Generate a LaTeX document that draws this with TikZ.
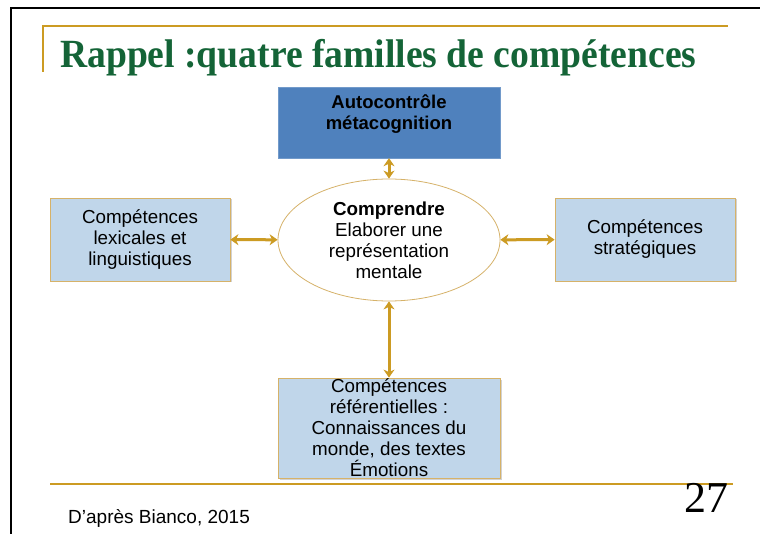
\documentclass[tikz,border=0pt]{standalone}
\usepackage{fontspec}
\setmainfont{Liberation Sans}
\newfontfamily\titlefont[FakeStretch=0.94]{Liberation Serif}
\newfontfamily\numfont{Liberation Serif}
\usetikzlibrary{arrows.meta,shapes.geometric,shadows}

\definecolor{titlegreen}{RGB}{20,100,55}
\definecolor{goldline}{RGB}{204,155,35}
\definecolor{boxblue}{RGB}{192,214,234}
\definecolor{darkblue}{RGB}{79,129,189}
\definecolor{boxrim}{RGB}{214,178,105}

\begin{document}
\begin{tikzpicture}[x=1pt,y=-1pt,>={Stealth[length=8pt,width=11pt,inset=2.5pt]},
    lightbox/.style={draw=boxrim,line width=0.8pt,fill=boxblue,align=center,
        font=\fontsize{18.8}{21}\selectfont,inner sep=0pt,
        drop shadow={opacity=0.35,shadow xshift=1.5pt,shadow yshift=-1.5pt}},
    conn/.style={<->,draw=goldline,fill=goldline,line width=3pt}]
    \useasboundingbox (0,0) rectangle (760,534);
    \fill [white] (0,0) rectangle (760,534);

    % cadre de la diapositive
    \draw [line width=1.6pt] (11,534) -- (11,8) -- (760,8);
    \draw [goldline,line width=1.5pt] (43,72) -- (43,26) -- (728,26);
    \node (titre) [anchor=base west,inner sep=0pt,text=titlegreen,
        font=\titlefont\bfseries\fontsize{40}{44}\selectfont] at (60,68)
        {Rappel :quatre familles de compétences};

    % les quatre familles
    \node (autocontrole) [draw=darkblue!80!white,fill=darkblue,align=center,
        minimum width=222pt,minimum height=71pt,inner sep=0pt,
        font=\bfseries\fontsize{18.5}{21}\selectfont] at (389,122.5)
        {Autocontrôle\\métacognition\\\mbox{}};
    \node (comprendre) [ellipse,draw=boxrim,line width=0.8pt,fill=white,
        minimum width=222pt,minimum height=122pt,inner sep=0pt,align=center,
        font=\fontsize{18.8}{21}\selectfont] at (389,240)
        {\textbf{Comprendre}\\Elaborer une\\représentation\\mentale};
    \node (lexicales) [lightbox,minimum width=180pt,minimum height=83pt] at (140,239.5)
        {Compétences\\lexicales et\\linguistiques};
    \node (strategiques) [lightbox,minimum width=180pt,minimum height=83pt] at (645,239.5)
        {Compétences\\stratégiques};
    \node (referentielles) [lightbox,minimum width=222pt,minimum height=100pt] at (389,428)
        {Compétences\\référentielles :\\Connaissances du\\monde, des textes\\Émotions};

    \draw [conn] (autocontrole) -- (comprendre);
    \draw [conn] (lexicales) -- (comprendre);
    \draw [conn] (strategiques) -- (comprendre);
    \draw [conn] (referentielles) -- (comprendre);

    % pied de page
    \draw [goldline,line width=1.5pt] (50,484) -- (733,484);
    \node (numero) [anchor=base east,inner sep=0pt,
        font=\numfont\fontsize{44}{46}\selectfont] at (729,512) {27};
    \node (source) [anchor=base west,inner sep=0pt,
        font=\fontsize{19}{21}\selectfont] at (68,523) {D’après Bianco, 2015};
\end{tikzpicture}
\end{document}
